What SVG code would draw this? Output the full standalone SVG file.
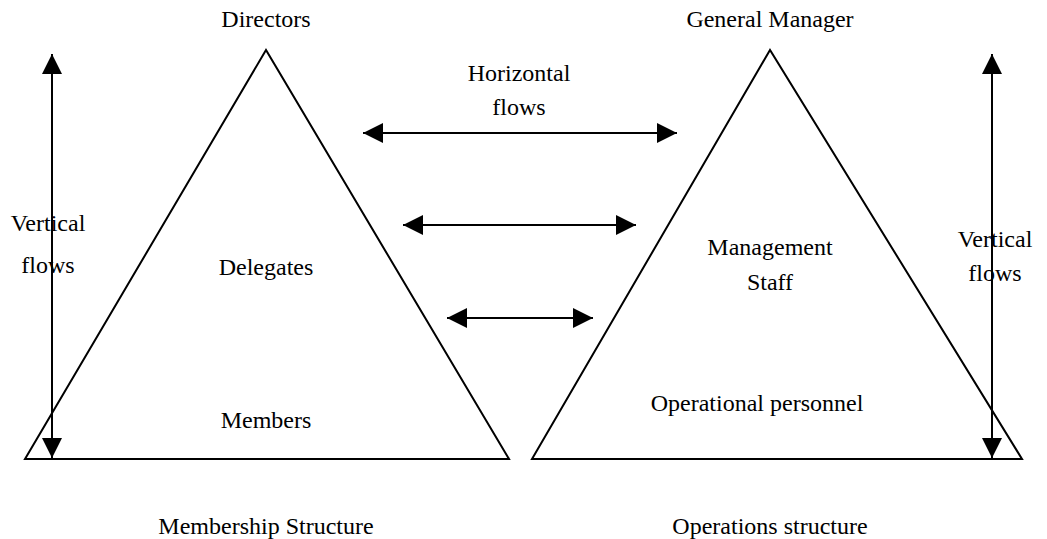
<svg xmlns="http://www.w3.org/2000/svg" width="1047" height="539" viewBox="0 0 1047 539">
<defs>
<marker id="ah" viewBox="0 0 20 20" refX="20" refY="10" markerWidth="20" markerHeight="20" markerUnits="userSpaceOnUse" orient="auto-start-reverse">
<path d="M0,0 L20,10 L0,20 Z" fill="#000"/>
</marker>
<style>
text{font-family:"Liberation Serif","Times New Roman",serif;font-size:24px;fill:#000;text-anchor:middle}
.tri{fill:none;stroke:#000;stroke-width:2}
.arr{stroke:#000;stroke-width:2;fill:none;marker-start:url(#ah);marker-end:url(#ah)}
</style>
</defs>
<rect width="1047" height="539" fill="#fff"/>
<g id="membership">
<polygon class="tri" points="266,50 25,459 509,459"/>
<text x="266" y="27">Directors</text>
<text x="266" y="275">Delegates</text>
<text x="266" y="428">Members</text>
<text x="266" y="534">Membership Structure</text>
</g>
<g id="operations">
<polygon class="tri" points="770,50 532,459 1022,459"/>
<text x="770" y="27">General Manager</text>
<text x="770" y="255">Management</text>
<text x="770" y="290">Staff</text>
<text x="757" y="411">Operational personnel</text>
<text x="770" y="534">Operations structure</text>
</g>
<g id="labels">
<text x="519" y="81">Horizontal</text>
<text x="519" y="115">flows</text>
<text x="48" y="231">Vertical</text>
<text x="48" y="273">flows</text>
<text x="995" y="247">Vertical</text>
<text x="995" y="281">flows</text>
</g>
<g id="connectors">
<line class="arr" x1="52" y1="54" x2="52" y2="458"/>
<line class="arr" x1="992" y1="54" x2="992" y2="458"/>
<line class="arr" x1="363" y1="133" x2="677" y2="133"/>
<line class="arr" x1="403" y1="225" x2="636" y2="225"/>
<line class="arr" x1="447" y1="318" x2="593" y2="318"/>
</g>
</svg>
